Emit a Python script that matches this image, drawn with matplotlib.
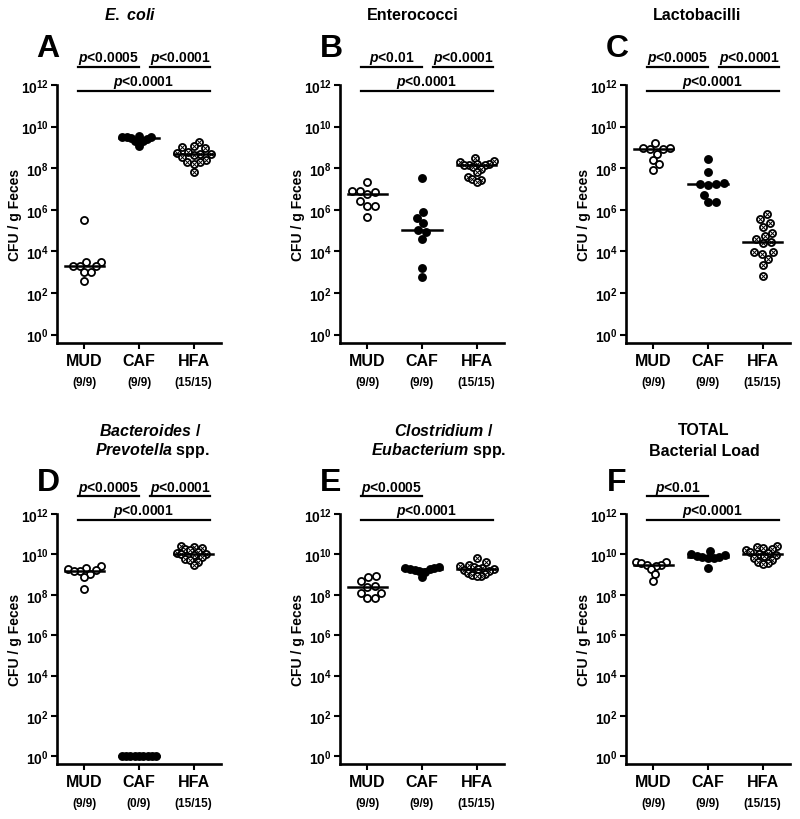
import matplotlib
matplotlib.use("Agg")
import matplotlib.pyplot as plt
import numpy as np
from matplotlib.ticker import NullLocator

plt.rcParams["font.family"] = "Liberation Sans"
plt.rcParams["font.weight"] = "bold"
plt.rcParams["mathtext.fontset"] = "custom"
plt.rcParams["mathtext.rm"] = "Liberation Sans:bold"
plt.rcParams["mathtext.it"] = "Liberation Sans:italic:bold"
plt.rcParams["mathtext.bf"] = "Liberation Sans:bold"

groups = ["MUD", "CAF", "HFA"]
exps = [0, 2, 4, 6, 8, 10, 12]

# log10 CFU / g feces
ecoli_mud = [5.5, 3.5, 3.5, 3.3, 3.3, 3.3, 3.0, 3.0, 2.6]
ecoli_caf = [9.55, 9.5, 9.5, 9.5, 9.45, 9.4, 9.3, 9.3, 9.05]
ecoli_hfa = [9.25, 9.05, 9.0, 8.95, 8.8, 8.75, 8.7, 8.7, 8.65, 8.55, 8.4, 8.3, 8.3, 8.2, 7.8]

ent_mud = [7.36, 6.9, 6.9, 6.85, 6.75, 6.4, 6.2, 6.2, 5.64]
ent_caf = [7.52, 5.88, 5.6, 5.35, 5.04, 4.93, 4.6, 3.2, 2.75]
ent_hfa = [8.5, 8.35, 8.3, 8.2, 8.2, 8.15, 8.15, 8.15, 8.05, 7.95, 7.8, 7.6, 7.5, 7.45, 7.35]

lac_mud = [9.21, 8.95, 8.95, 8.9, 8.9, 8.7, 8.38, 8.18, 7.93]
lac_caf = [8.46, 7.81, 7.3, 7.25, 7.25, 7.2, 6.69, 6.36, 6.36]
lac_hfa = [5.8, 5.56, 5.35, 5.19, 4.87, 4.75, 4.6, 4.43, 4.38, 3.95, 3.95, 3.87, 3.63, 3.35, 2.82]

bac_mud = [9.43, 9.35, 9.3, 9.25, 9.2, 9.2, 9.05, 8.9, 8.27]
bac_caf = [0, 0, 0, 0, 0, 0, 0, 0, 0]
bac_hfa = [10.4, 10.35, 10.3, 10.25, 10.2, 10.1, 10.05, 10.0, 10.0, 9.95, 9.85, 9.75, 9.7, 9.6, 9.46]

clo_mud = [8.92, 8.87, 8.66, 8.45, 8.4, 8.1, 8.1, 7.84, 7.84]
clo_caf = [9.4, 9.35, 9.35, 9.3, 9.3, 9.25, 9.2, 9.15, 8.87]
clo_hfa = [9.83, 9.6, 9.5, 9.45, 9.4, 9.35, 9.3, 9.3, 9.25, 9.2, 9.1, 9.05, 9.0, 8.95, 8.92]

tot_mud = [9.62, 9.6, 9.55, 9.5, 9.5, 9.45, 9.3, 9.05, 8.68]
tot_caf = [10.16, 10.0, 9.95, 9.9, 9.87, 9.85, 9.8, 9.8, 9.35]
tot_hfa = [10.42, 10.38, 10.3, 10.25, 10.2, 10.1, 10.05, 10.0, 9.95, 9.9, 9.8, 9.7, 9.6, 9.55, 9.51]

counts_std = ["(9/9)", "(9/9)", "(15/15)"]
counts_bac = ["(9/9)", "(0/9)", "(15/15)"]

comp_three_5 = [(0, 1, "0.0005"), (1, 2, "0.0001"), (0, 2, "0.0001")]
comp_three_01 = [(0, 1, "0.01"), (1, 2, "0.0001"), (0, 2, "0.0001")]
comp_e = [(0, 1, "0.0005"), (0, 2, "0.0001")]
comp_f = [(0, 1, "0.01"), (0, 2, "0.0001")]

styles = ["open", "filled", "crossed"]

# ends of the significance bars, in x data units
bar_span = {(0, 1): (-0.12, 1.0), (1, 2): (1.2, 2.3), (0, 2): (-0.12, 2.3)}

W, H = 800, 820
MS, LW = 26, 1.3


def swarm(logv, px_dec, d=8.0, px_unit=54.5, max_half=17.0):
    y = np.asarray(logv, dtype=float) * px_dec
    xs = np.zeros(len(y))
    placed = []
    for k in np.argsort(y, kind="stable"):
        near = [(px, py) for px, py in placed if abs(py - y[k]) < d]
        cands = [0.0]
        for px, py in near:
            dx = np.sqrt(d ** 2 - (py - y[k]) ** 2)
            cands += [px + dx, px - dx]
        cands.sort(key=abs)
        for c in cands:
            if all((c - px) ** 2 + (y[k] - py) ** 2 >= d ** 2 - 1e-6 for px, py in near):
                xs[k] = c
                break
        placed.append((xs[k], y[k]))
    m = np.abs(xs).max()
    if m > max_half:
        xs *= max_half / m
    return xs / px_unit


def draw_group(ax, i, vals, style, px_dec):
    y = np.asarray(vals, dtype=float)
    x = i + swarm(y, px_dec)
    yv = 10.0 ** y
    if style == "filled":
        ax.scatter(x, yv, s=MS, c="black", edgecolors="black", linewidths=LW, zorder=3, clip_on=False)
    else:
        ax.scatter(x, yv, s=MS, facecolors="white", edgecolors="black", linewidths=LW, zorder=3, clip_on=False)
        if style == "crossed":
            ax.scatter(x, yv, s=MS * 0.4, marker="x", c="black", linewidths=0.7, zorder=4, clip_on=False)
    med = np.median(y)
    ax.plot([i - 0.36, i + 0.36], [10 ** med, 10 ** med], color="black", lw=1.8, zorder=5)


fig = plt.figure(figsize=(8, 8.2), dpi=100)

# (letter, data, counts, comparisons, axes left px, axes top px, axes bottom px, px per decade)
panels = [
    ("A", [ecoli_mud, ecoli_caf, ecoli_hfa], counts_std, comp_three_5, 57, 86, 344, 20.8),
    ("B", [ent_mud, ent_caf, ent_hfa], counts_std, comp_three_01, 340, 86, 344, 20.8),
    ("C", [lac_mud, lac_caf, lac_hfa], counts_std, comp_three_5, 626, 86, 344, 20.8),
    ("D", [bac_mud, bac_caf, bac_hfa], counts_bac, comp_three_5, 57, 515, 765, 20.2),
    ("E", [clo_mud, clo_caf, clo_hfa], counts_std, comp_e, 340, 515, 765, 20.2),
    ("F", [tot_mud, tot_caf, tot_hfa], counts_std, comp_f, 626, 515, 765, 20.2),
]

for letter, data, counts, comps, lpx, tpx, bpx, pxd in panels:
    ax = fig.add_axes([lpx / W, 1 - bpx / H, 164 / W, (bpx - tpx) / H])
    ax.set_yscale("log")
    ybot = -(bpx - tpx - 12 * pxd) / pxd
    ax.set_ylim(10 ** ybot, 1e12)
    ax.set_xlim(-0.5, 2.5)
    for i, vals in enumerate(data):
        draw_group(ax, i, vals, styles[i], pxd)

    ax.set_yticks([10.0 ** e for e in exps])
    ax.set_yticklabels([f"$10^{{{e}}}$" for e in exps])
    ax.yaxis.set_minor_locator(NullLocator())
    ax.set_xticks(range(3))
    ax.set_xticklabels(groups, fontsize=11.5, fontweight="bold")
    for s in ["top", "right"]:
        ax.spines[s].set_visible(False)
    for s in ["left", "bottom"]:
        ax.spines[s].set_linewidth(1.9)
    ax.tick_params(axis="y", length=4, width=1.5, labelsize=10, pad=2)
    ax.tick_params(axis="x", length=4, width=1.5, pad=3)
    ax.set_ylabel("CFU / g Feces", fontsize=10, fontweight="bold", labelpad=-1)

    for i, c in enumerate(counts):
        ax.annotate(c, xy=(i, 0), xycoords=("data", "axes fraction"), xytext=(0, -28),
                    textcoords="offset points", ha="center", va="center", fontsize=8.5,
                    fontweight="bold", annotation_clip=False)

    for i, j, p in comps:
        x0, x1 = bar_span[(i, j)]
        yb = 10 ** (11.72 if (i, j) == (0, 2) else 12.87)
        ax.plot([x0, x1], [yb, yb], color="black", lw=1.6, clip_on=False)
        ax.annotate(f"$p$<{p}", xy=((x0 + x1) / 2, yb), xytext=(0, 0.5), textcoords="offset points",
                    ha="center", va="bottom", fontsize=10, fontweight="bold", annotation_clip=False)

    dy = 37 if tpx < 400 else 32
    fig.text((lpx - 9) / W, 1 - (tpx - dy) / H, letter, fontsize=23, fontweight="bold",
             ha="center", va="center")

# panel titles
fig.text(130 / W, 1 - 15 / H, r"$\mathit{E.\ coli}$", fontsize=11.5, ha="center", va="center")
fig.text(413 / W, 1 - 15 / H, "Enterococci", fontsize=11.5, fontweight="bold", ha="center", va="center")
fig.text(697 / W, 1 - 15 / H, "Lactobacilli", fontsize=11.5, fontweight="bold", ha="center", va="center")
fig.text(150 / W, 1 - 431 / H, r"$\mathit{Bacteroides}$ /", fontsize=11.5, fontweight="bold", ha="center", va="center")
fig.text(152 / W, 1 - 451 / H, r"$\mathit{Prevotella}$ spp.", fontsize=11.5, fontweight="bold", ha="center", va="center")
fig.text(444 / W, 1 - 431 / H, r"$\mathit{Clostridium}$ /", fontsize=11.5, fontweight="bold", ha="center", va="center")
fig.text(439 / W, 1 - 451 / H, r"$\mathit{Eubacterium}$ spp.", fontsize=11.5, fontweight="bold", ha="center", va="center")
fig.text(704 / W, 1 - 431 / H, "TOTAL", fontsize=11.5, fontweight="bold", ha="center", va="center")
fig.text(704 / W, 1 - 451 / H, "Bacterial Load", fontsize=11.5, fontweight="bold", ha="center", va="center")

fig.savefig("out.png", dpi=100)
